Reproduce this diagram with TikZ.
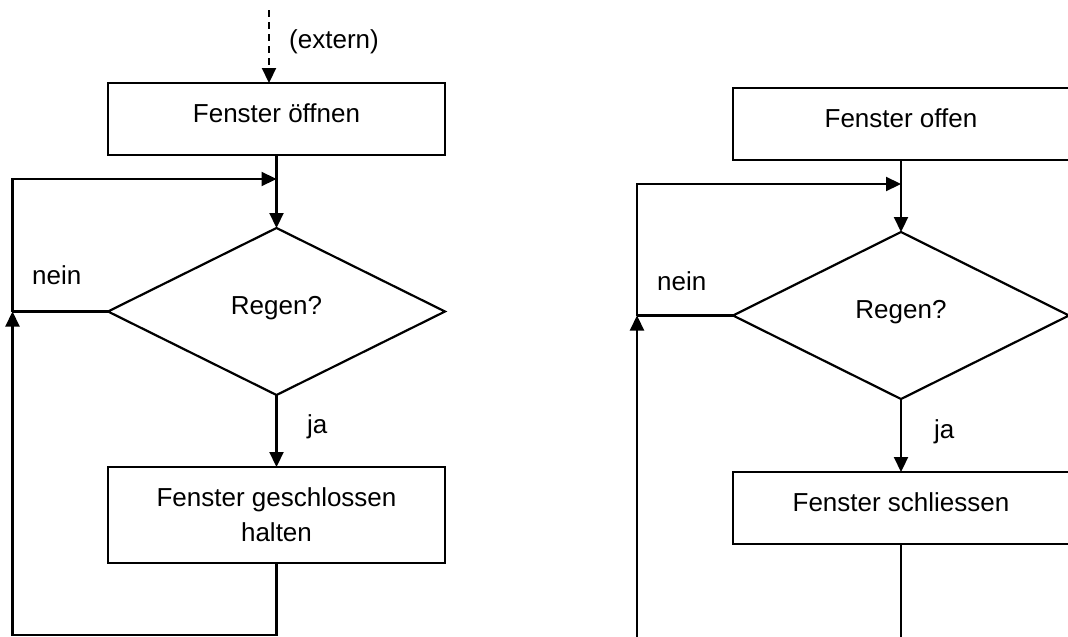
\documentclass[tikz,border=0pt]{standalone}
\usepackage{fontspec}
\setmainfont{Liberation Sans}
\usetikzlibrary{shapes.geometric,arrows.meta}

\tikzset{
  flow/.style={line width=2.2pt, line join=miter},
  arr/.style={flow, -{Triangle[length=15pt,width=14pt]}},
  dasharr/.style={arr, dash pattern=on 7pt off 5pt},
  txt/.style={font=\fontsize{26}{35}\selectfont},
  procbox/.style={txt, draw, line width=2.2pt, rectangle, inner sep=0pt, outer sep=0pt,
    minimum width=337pt, align=center, text height=19pt, text depth=13pt},
  decide/.style={txt, draw, line width=2.2pt, diamond, inner sep=0pt, outer sep=0pt,
    minimum width=337pt, minimum height=167pt, text height=19pt, text depth=13pt},
  tag/.style={txt, inner sep=0pt, anchor=base west},
}

\begin{document}
\begin{tikzpicture}[x=1pt, y=-1pt]
  \useasboundingbox (0,0) rectangle (1068,637);
  \fill[white] (0,0) rectangle (1068,637);
  \clip (0,0) rectangle (1068,637);

  % ---------- left chart ----------
  \node[procbox, minimum height=72pt] (open) at (276.5,119) {Fenster öffnen};
  \node[decide] (rain1) at (276.5,311.5) {Regen?};
  \node[procbox, minimum height=96pt, text height={}, text depth={}] (keep) at (276.5,515)
    {Fenster geschlossen\\halten};

  \coordinate (ext) at (269,10);
  \coordinate (merge1) at (276.5,179);
  \coordinate (join1) at (12.5,311.5);

  \draw[dasharr] (ext) -- (ext |- open.north);
  \draw[arr] (open.south) -- (rain1.north);
  \draw[arr] (rain1.south) -- (keep.north);
  \draw[flow] (rain1.west) -- (join1);
  \draw[arr] (keep.south) -- ++(0,72) -| (join1);
  \draw[arr] (join1) |- (merge1);

  \node[tag] (extlbl) at (289,48) {(extern)};
  \node[tag] (no1) at (32,284) {nein};
  \node[tag] (yes1) at (307,433) {ja};

  % ---------- right chart ----------
  \node[procbox, minimum height=72pt, minimum width=336pt] (isopen) at (901,124) {Fenster offen};
  \node[decide, minimum width=336pt] (rain2) at (901,315.5) {Regen?};
  \node[procbox, minimum height=72pt, minimum width=336pt] (close) at (901,508) {Fenster schliessen};

  \coordinate (merge2) at (901,184);
  \coordinate (join2) at (637,315.5);
  \coordinate (up2) at (637,660);
  \coordinate (down2) at (901,660);

  \draw[arr] (isopen.south) -- (rain2.north);
  \draw[arr] (rain2.south) -- (close.north);
  \draw[flow] (close.south) -- (down2);
  \draw[flow] (rain2.west) -- (join2);
  \draw[arr] (up2) -- (join2);
  \draw[arr] (join2) |- (merge2);

  \node[tag] (no2) at (657,290) {nein};
  \node[tag] (yes2) at (934,438) {ja};
\end{tikzpicture}
\end{document}
